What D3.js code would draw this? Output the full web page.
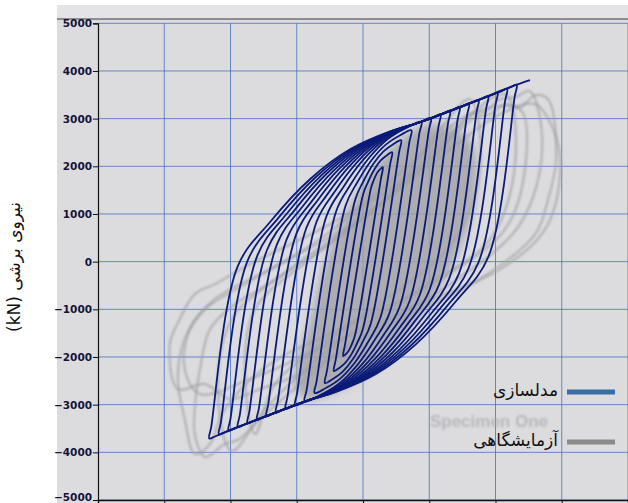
<!DOCTYPE html>
<html><head><meta charset="utf-8">
<script src="https://cdn.jsdelivr.net/npm/d3@7"></script>
<style>body{margin:0;background:#fff}svg{display:block}</style>
</head><body>
<script>
// ---------- data ----------
const yTicks = [-5000,-4000,-3000,-2000,-1000,0,1000,2000,3000,4000,5000];
const xTicks = [-80,-60,-40,-20,0,20,40,60,80];
const seriesNames = ["مدلسازی","آزمایشگاهی"];
const yTitle = "نیروی برشی  (kN)";
const watermark = "Specimen One";

// Model (numerical) loops: upper branch (negative peak -> positive peak), [displacement, shear]
const modelUpper = [
 [[-6.0,-1981],[-5.4,-1731],[2.34,1522],[2.98,1662],[3.79,1799],[4.59,1895],[5.40,1952],[6.0,1981]],
 [[-8.8,-2295],[-8.2,-2045],[0.02,1410],[1.57,1680],[3.50,1945],[5.43,2129],[7.36,2239],[8.8,2295]],
 [[-11.5,-2547],[-10.9,-2297],[-2.34,1302],[0.10,1682],[3.14,2054],[6.19,2313],[9.23,2469],[11.5,2547]],
 [[-14.6,-2756],[-14.0,-2506],[-5.24,1178],[-1.75,1659],[2.62,2131],[6.98,2459],[11.35,2657],[14.6,2756]],
 [[-17.6,-2935],[-17.0,-2685],[-8.10,1058],[-3.65,1627],[1.92,2185],[7.48,2573],[13.05,2806],[17.6,2935]],
 [[-20.5,-3011],[-19.9,-2761],[-11.09,942],[-6.11,1547],[0.11,2139],[6.34,2551],[12.56,2799],[17.2,2924],[20.5,3011]],
 [[-23.4,-3088],[-22.8,-2838],[-14.08,826],[-8.57,1466],[-1.69,2093],[5.19,2530],[12.07,2792],[17.2,2924],[21.4,3035],[23.4,3088]],
 [[-26.3,-3165],[-25.7,-2915],[-17.08,710],[-11.05,1385],[-3.51,2047],[4.04,2508],[11.58,2785],[17.2,2924],[24.3,3112],[26.3,3165]],
 [[-29.2,-3242],[-28.6,-2992],[-20.07,594],[-13.51,1305],[-5.31,2001],[2.89,2486],[11.09,2777],[17.2,2924],[27.2,3189],[29.2,3242]],
 [[-32.0,-3316],[-31.4,-3066],[-22.96,482],[-15.89,1227],[-7.06,1957],[1.78,2465],[10.61,2770],[17.2,2924],[30.0,3263],[32.0,3316]],
 [[-34.9,-3393],[-34.3,-3143],[-25.95,366],[-18.36,1146],[-8.86,1911],[0.63,2443],[10.12,2763],[17.2,2924],[32.9,3340],[34.9,3393]],
 [[-37.8,-3470],[-37.2,-3220],[-28.95,250],[-20.83,1066],[-10.67,1865],[-0.52,2421],[9.63,2756],[17.2,2924],[35.8,3417],[37.8,3470]],
 [[-40.6,-3544],[-40.0,-3294],[-31.84,138],[-23.21,988],[-12.42,1821],[-1.63,2400],[9.16,2748],[17.2,2924],[38.6,3491],[40.6,3544]],
 [[-43.5,-3621],[-42.9,-3371],[-34.83,22],[-25.67,907],[-14.23,1775],[-2.78,2378],[8.67,2741],[17.2,2924],[41.5,3568],[43.5,3621]],
 [[-46.4,-3710],[-45.8,-3460],[-37.8,-94],[-28.12,826],[-16.02,1729],[-3.92,2357],[8.18,2734],[17.2,2924],[44.4,3657],[46.4,3710]]
];
// lower branch (after positive peak, back towards negative peak)
const modelLower = [
 [[5.4,1731],[-2.34,-1522],[-2.98,-1662],[-3.79,-1799],[-4.59,-1895],[-5.40,-1952]],
 [[8.2,2045],[-0.02,-1410],[-1.57,-1680],[-3.50,-1945],[-5.43,-2129],[-7.36,-2239]],
 [[10.9,2297],[2.34,-1302],[-0.10,-1682],[-3.14,-2054],[-6.19,-2313],[-9.23,-2469]],
 [[14.0,2506],[5.24,-1178],[1.75,-1659],[-2.62,-2131],[-6.98,-2459],[-11.35,-2657]],
 [[17.0,2685],[8.10,-1058],[3.65,-1627],[-1.92,-2185],[-7.48,-2573],[-13.05,-2806]],
 [[19.9,2761],[11.09,-942],[6.11,-1547],[-0.11,-2139],[-6.34,-2551],[-12.56,-2799],[-17.2,-2924]],
 [[22.8,2838],[14.08,-826],[8.57,-1466],[1.69,-2093],[-5.19,-2530],[-12.07,-2792],[-17.2,-2924],[-21.4,-3035]],
 [[25.7,2915],[17.08,-710],[11.05,-1385],[3.51,-2047],[-4.04,-2508],[-11.58,-2785],[-17.2,-2924],[-24.3,-3112]],
 [[28.6,2992],[20.07,-594],[13.51,-1305],[5.31,-2001],[-2.89,-2486],[-11.09,-2777],[-17.2,-2924],[-27.2,-3189]],
 [[31.4,3066],[22.96,-482],[15.89,-1227],[7.06,-1957],[-1.78,-2465],[-10.61,-2770],[-17.2,-2924],[-30.0,-3263]],
 [[34.3,3143],[25.95,-366],[18.36,-1146],[8.86,-1911],[-0.63,-2443],[-10.12,-2763],[-17.2,-2924],[-32.9,-3340]],
 [[37.2,3220],[28.95,-250],[20.83,-1066],[10.67,-1865],[0.52,-2421],[-9.63,-2756],[-17.2,-2924],[-35.8,-3417]],
 [[40.0,3294],[31.84,-138],[23.21,-988],[12.42,-1821],[1.63,-2400],[-9.16,-2748],[-17.2,-2924],[-38.6,-3491]],
 [[42.9,3371],[34.83,-22],[25.67,-907],[14.23,-1775],[2.78,-2378],[-8.67,-2741],[-17.2,-2924],[-41.5,-3568]],
 [[45.8,3460],[37.8,94],[28.12,-826],[16.02,-1729],[3.92,-2357],[-8.18,-2734],[-17.2,-2924],[-44.4,-3657]]
];
const modelTail = [[40.0,3540],[46.4,3712],[50.4,3810]];

// Test (laboratory) loops, faint grey
const testLoops = [
 [[55.9,3406],[58.3,2148],[55.9,1310],[52.0,576],[35.3,-367],[11.2,-1205],[-19.0,-2358],[-31.1,-2672],[-40.2,-2882],[-47.7,-2568],[-55.9,-2672],[-58.3,-1729],[-55.3,-1205],[-50.8,-681],[-44.7,-472],[-34.1,-52],[-10.0,786],[17.2,1939],[29.3,2777],[33.8,3029],[38.4,3092],[42.9,3301],[47.4,3238],[52.0,3490]],
 [[50.4,3574],[54.1,2358],[47.4,786],[26.3,-472],[-3.9,-1729],[-31.1,-3301],[-37.2,-3720],[-41.7,-3825],[-47.7,-4098],[-50.8,-3616],[-50.8,-3092],[-49.2,-2253],[-46.2,-1415],[-38.7,-891],[-31.1,-576],[-3.9,681],[23.3,2358],[32.3,3092],[36.9,3154],[41.4,3406],[45.9,3448]],
 [[42.9,3511],[45.9,2044],[38.4,472],[17.2,-576],[-10.0,-1834],[-29.6,-3092],[-39.6,-3972],[-43.8,-2777],[-39.6,-1205],[-22.1,-157],[5.1,1205],[26.3,2672]],
 [[32.3,3406],[35.3,1939],[27.8,472],[11.2,-576],[-10.0,-1624],[-26.6,-2568],[-32.6,-3616],[-35.6,-2463],[-32.6,-996],[-16.0,52],[8.2,1415],[23.3,2777]],
 [[58.0,2672],[59.5,1834],[55.0,681],[41.4,-157],[17.2,-891],[-10.0,-1729],[-34.1,-2463],[-49.2,-2777],[-53.8,-2253],[-52.3,-1415],[-44.7,-786],[-28.1,-157],[-0.9,891],[26.3,2358],[41.4,3092],[52.0,3301]],
 [[47.4,3196],[48.9,1939],[42.9,681],[23.3,-367],[-6.9,-1415],[-28.1,-2148],[-41.7,-3092],[-46.2,-3825],[-50.8,-4035],[-53.8,-3301],[-55.9,-2463],[-53.8,-1624],[-47.7,-996],[-35.6,-472],[-13.0,472],[14.2,2044],[32.3,3092]]
];
const testCore = [[-17.5,-2882],[-0.9,-2463],[14.2,-1415],[26.3,-157],[33.8,1310],[32.3,2568],[20.2,2882],[9.7,2463],[-0.9,1520],[-10.0,262],[-16.0,-1205],[-20.5,-2568]];

// ---------- drawing ----------
const W = 628, H = 503;
const svg = d3.select("body").append("svg").attr("width", W).attr("height", H);
const defs = svg.append("defs");
[["b1",0.8],["b2",1.6],["b4",4]].forEach(([id,s]) => {
  defs.append("filter").attr("id", id).attr("x","-20%").attr("y","-20%").attr("width","140%").attr("height","140%")
    .append("feGaussianBlur").attr("stdDeviation", s);
});

// panel background
svg.append("rect").attr("x",57).attr("y",5).attr("width",W-57).attr("height",H-5).attr("fill","#dcdcdf");
svg.append("rect").attr("x",57).attr("y",5).attr("width",W-57).attr("height",14).attr("fill","#e4e4e6");
svg.append("line").attr("x1",57).attr("x2",W).attr("y1",19).attr("y2",19).attr("stroke","#3a3a3a").attr("stroke-width",1.2);

const x = d3.scaleLinear().domain([-80,80]).range([98,628]);
const y = d3.scaleLinear().domain([-5000,5000]).range([500,23.3]);

// grid
const grid = svg.append("g");
grid.selectAll(".hg").data(yTicks).join("line")
  .attr("x1", x(-80)).attr("x2", x(80)).attr("y1", d => y(d)).attr("y2", d => y(d))
  .attr("stroke","#4f76c6").attr("stroke-width",1).attr("opacity",0.85);
grid.selectAll(".vg").data(xTicks.slice(1)).join("line")
  .attr("x1", d => x(d)).attr("x2", d => x(d)).attr("y1", y(5000)).attr("y2", y(-5000))
  .attr("stroke","#4f76c6").attr("stroke-width",1).attr("opacity",0.85);

const line = d3.line().x(d => x(d[0])).y(d => y(d[1]));
const closedCurve = d3.line().x(d => x(d[0])).y(d => y(d[1])).curve(d3.curveCatmullRomClosed.alpha(0.5));

// test loops (ghost)
const tg = svg.append("g");
tg.append("path").datum(testCore).attr("d", closedCurve)
  .attr("fill","#a2a2a6").attr("opacity",0.8).attr("filter","url(#b4)");
tg.selectAll(".tl").data(testLoops).join("path")
  .attr("d", closedCurve)
  .attr("fill","none").attr("stroke","#a0a0a2").attr("stroke-width",2.2).attr("opacity",0.7).attr("filter","url(#b1)");

// watermark
svg.append("text").attr("x",489).attr("y",427).attr("text-anchor","middle")
  .attr("font-family","Liberation Sans, Arial, sans-serif").attr("font-weight","bold").attr("font-size",17)
  .attr("fill","#a8a8aa").attr("opacity",0.7).attr("filter","url(#b1)").text(watermark);

// model loops
const mg = svg.append("g");
mg.selectAll(".ml").data(modelUpper.map((u,i) => u.concat(modelLower[i]))).join("path")
  .attr("d", closedCurve)
  .attr("fill","none").attr("stroke","#0b1b78").attr("stroke-width",1.8);
mg.append("path").datum(modelTail).attr("d", line.curve(d3.curveCatmullRom.alpha(0.5)))
  .attr("fill","none").attr("stroke","#0b1b78").attr("stroke-width",1.8);

// axes
const yAxis = d3.axisLeft(y).tickValues(yTicks).tickSize(5).tickFormat(d3.format("d"));
const ya = svg.append("g").attr("transform",`translate(${x(-80)},0)`).call(yAxis);
ya.select(".domain").attr("stroke","#111").attr("stroke-width",1.2);
ya.selectAll(".tick line").attr("stroke","#111");
ya.selectAll(".tick text").attr("font-family","DejaVu Sans, sans-serif").attr("font-weight","bold")
  .attr("font-size",10.5).attr("fill","#14143a").attr("x",-6)
  .attr("dy", d => d === -5000 ? "0em" : "0.32em");

const xAxis = d3.axisBottom(x).tickValues(xTicks).tickSize(6).tickFormat("");
const xa = svg.append("g").attr("transform",`translate(0,${y(-5000)})`).call(xAxis);
xa.select(".domain").attr("stroke","#111").attr("stroke-width",1.4);
xa.selectAll(".tick line").attr("stroke","#111");

// y title
svg.append("text").attr("transform","translate(20,267) rotate(-90)").attr("text-anchor","middle")
  .attr("direction","rtl").attr("font-family","DejaVu Sans, sans-serif").attr("font-size",17)
  .attr("fill","#111").text(yTitle);

// legend
const legColors = ["#3a6ea8","#8a8a8a"];
const legY = [392, 442];
const lg = svg.append("g");
seriesNames.forEach((n,i) => {
  lg.append("line").attr("x1",567).attr("x2",615).attr("y1",legY[i]).attr("y2",legY[i])
    .attr("stroke",legColors[i]).attr("stroke-width",5);
  lg.append("text").attr("x",558).attr("y",legY[i]+4).attr("text-anchor","end")
    .attr("font-family","DejaVu Sans, sans-serif").attr("font-size",17).attr("fill","#111").text(n);
});
</script>
</body></html>
